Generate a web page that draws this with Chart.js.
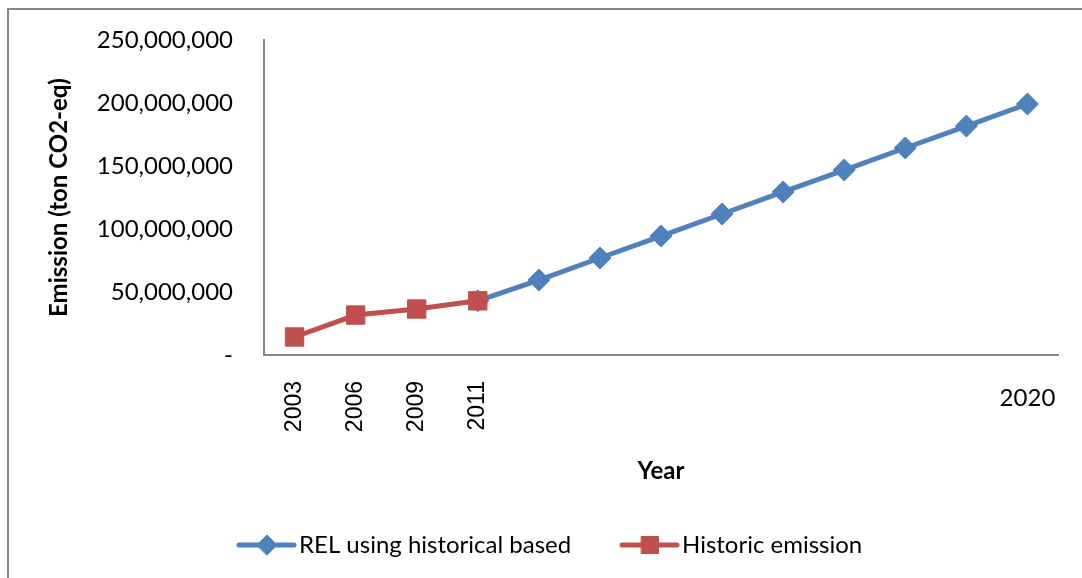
<!DOCTYPE html>
<html>
<head>
<meta charset="utf-8">
<script src="https://cdn.jsdelivr.net/npm/chart.js@4/dist/chart.umd.min.js"></script>
<style>
  html, body { margin: 0; padding: 0; background: #fff; }
  #wrap { width: 1082px; height: 578px; position: relative; }
</style>
</head>
<body>
<div id="wrap"><canvas id="myChart" width="1082" height="578"></canvas></div>
<script>
// categories along the x axis (only some years are labelled)
const years = ['2003', '2006', '2009', '2011', '', '', '', '', '', '', '', '', '2020'];

// REL projection (ton CO2-eq), starts at 2011
const relValues = [null, null, null, 43000000, 59500000, 77000000, 94400000, 111900000,
    129400000, 146800000, 164300000, 181700000, 199200000];

// historic emission (ton CO2-eq)
const historicValues = [14300000, 31700000, 36500000, 43000000, null, null, null, null,
    null, null, null, null, null];

const yTicks = [0, 50000000, 100000000, 150000000, 200000000, 250000000];

const blue = '#4F81BD';
const red = '#C0504D';
const calibri = 'Lato, "Open Sans", sans-serif';

// frame (top + left only), legend, and the flat last label
const extras = {
    id: 'extras',
    beforeDraw(chart) {
        const ctx = chart.ctx;
        ctx.save();
        ctx.fillStyle = '#fff';
        ctx.fillRect(0, 0, chart.width, chart.height);
        ctx.strokeStyle = '#868686';
        ctx.lineWidth = 2;
        ctx.beginPath();
        ctx.moveTo(8, chart.height);
        ctx.lineTo(8, 9);
        ctx.lineTo(chart.width, 9);
        ctx.stroke();
        ctx.restore();
    },
    afterDraw(chart) {
        const ctx = chart.ctx;
        const xs = chart.scales.x;
        ctx.save();
        // last tick label sits flat
        ctx.font = '24px ' + calibri;
        ctx.fillStyle = '#000';
        ctx.textAlign = 'center';
        ctx.textBaseline = 'middle';
        ctx.fillText(years[years.length - 1], xs.getPixelForValue(years.length - 1), 398);

        // legend
        const items = [
            {text: 'REL using historical based', color: blue, style: 'rectRot', x: 239},
            {text: 'Historic emission', color: red, style: 'rect', x: 622}
        ];
        const ly = 545;
        items.forEach(it => {
            ctx.strokeStyle = it.color;
            ctx.lineWidth = 5;
            ctx.lineCap = 'round';
            ctx.beginPath();
            ctx.moveTo(it.x, ly);
            ctx.lineTo(it.x + 55, ly);
            ctx.stroke();
            ctx.fillStyle = it.color;
            ctx.lineWidth = 1;
            Chart.helpers.drawPoint(ctx, {pointStyle: it.style, radius: it.style === 'rect' ? 12 : 10, borderWidth: 1},
                it.x + 28, ly);
            ctx.fillStyle = '#000';
            ctx.font = '24px ' + calibri;
            ctx.textAlign = 'left';
            ctx.fillText(it.text, it.x + 60, ly);
        });
        ctx.restore();
    }
};

const data = {
    labels: years,
    datasets: [{
        label: 'REL using historical based',
        data: relValues,
        borderColor: blue,
        backgroundColor: blue,
        borderWidth: 5,
        pointStyle: 'rectRot',
        pointRadius: 11,
        pointBorderWidth: 1,
        order: 2
    }, {
        label: 'Historic emission',
        data: historicValues,
        borderColor: red,
        backgroundColor: red,
        borderWidth: 5,
        pointStyle: 'rect',
        pointRadius: 13,
        pointBorderWidth: 1,
        order: 1
    }]
};

const config = {
    type: 'line',
    data: data,
    plugins: [extras],
    options: {
        responsive: false,
        animation: false,
        layout: { padding: { top: 40, right: 24, left: 0, bottom: 0 } },
        plugins: {
            legend: { display: false },
            tooltip: { enabled: false }
        },
        scales: {
            x: {
                offset: true,
                grid: { display: false, drawTicks: false },
                border: { color: '#868686', width: 2 },
                ticks: {
                    autoSkip: false,
                    minRotation: 90,
                    maxRotation: 90,
                    padding: 26,
                    color: '#000',
                    font: { family: '"Liberation Sans", Arial, sans-serif', size: 23 },
                    callback: function (v, i) {
                        return i === years.length - 1 ? '' : years[i];
                    }
                },
                title: {
                    display: true,
                    text: 'Year',
                    color: '#000',
                    font: { family: calibri, size: 24, weight: 'bold' },
                    padding: { top: 0, bottom: 92 }
                },
                afterFit: function (scale) { scale.height = 223; }
            },
            y: {
                min: 0,
                max: 250000000,
                grid: { display: false, drawTicks: false },
                border: { color: '#868686', width: 2 },
                afterBuildTicks: function (scale) {
                    scale.ticks = yTicks.map(v => ({ value: v }));
                },
                ticks: {
                    padding: 31,
                    color: '#000',
                    font: { family: calibri, size: 24 },
                    callback: function (v) {
                        return v === 0 ? '-' : v.toLocaleString('en-US');
                    }
                },
                title: {
                    display: true,
                    text: 'Emission (ton CO2-eq)',
                    color: '#000',
                    font: { family: calibri, size: 24, weight: 'bold' },
                    padding: { top: 45, bottom: 0 }
                },
                afterFit: function (scale) {
                    scale.width = 264;
                    // tick padding would otherwise push the plot top down
                    scale.paddingTop = 0;
                    scale.paddingBottom = 0;
                }
            }
        }
    }
};

const myChart = new Chart(document.getElementById('myChart'), config);
</script>
</body>
</html>
